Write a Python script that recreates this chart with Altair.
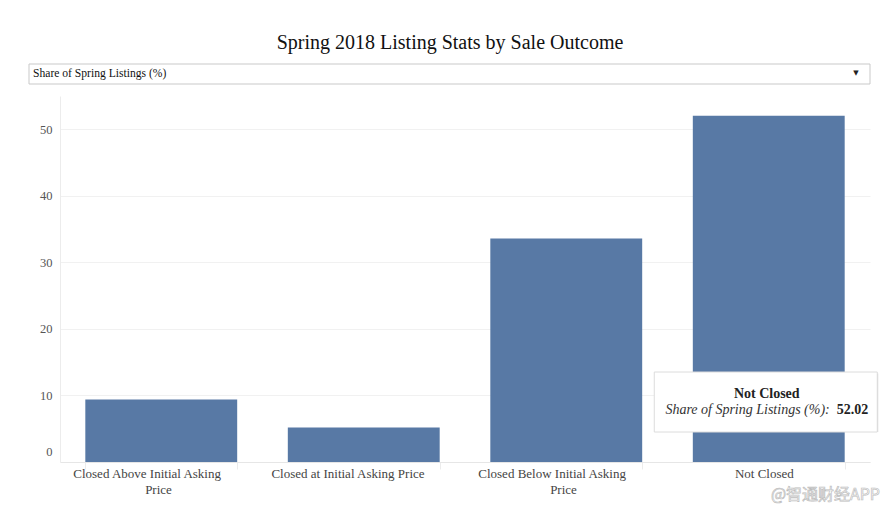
import altair as alt
import pandas as pd

outcomes = [
    "Closed Above Initial Asking Price",
    "Closed at Initial Asking Price",
    "Closed Below Initial Asking Price",
    "Not Closed",
]
share = [9.4, 5.2, 33.6, 52.02]
label_lines = [
    ["Closed Above Initial Asking", "Price"],
    ["Closed at Initial Asking Price"],
    ["Closed Below Initial Asking", "Price"],
    ["Not Closed"],
]
y_ticks = [0, 10, 20, 30, 40, 50]
measure_name = "Share of Spring Listings (%)"
title_text = "Spring 2018 Listing Stats by Sale Outcome"
tooltip_outcome = "Not Closed"
watermark = "@智通财经APP"

df = pd.DataFrame({"outcome": outcomes, "share": share})

# build the label-wrapping expression; the source header lays each line out a
# little left of the band centre, mimicked with trailing no-break spaces
# (closed by a zero-width space so that they are not trimmed away)
NBSP = "\u00a0"
ZWSP = "\u200b"


def pad(line):
    return line + NBSP * round(len(line) * 0.33) + ZWSP


expr = "datum.label"
for name, lines in zip(outcomes, label_lines):
    arr = "[" + ",".join("'" + pad(l) + "'" for l in lines) + "]"
    expr = f"datum.label == '{name}' ? {arr} : ({expr})"

SERIF = "Liberation Serif"
BLUE = "#5879a5"

x_enc = alt.X(
    "outcome:N",
    sort=outcomes,
    title=None,
    scale=alt.Scale(paddingInner=0.25, paddingOuter=0.125),
    axis=alt.Axis(
        labelAngle=0,
        labelExpr=expr,
        labelFont=SERIF,
        labelFontSize=13,
        labelColor="#444",
        labelLineHeight=16,
        labelPadding=-2,
        tickBand="extent",
        tickSize=7,
        tickColor="#ececec",
        domainColor="#e6e6e6",
        grid=False,
        labelLimit=300,
    ),
)
y_enc = alt.Y(
    "share:Q",
    title=None,
    scale=alt.Scale(domain=[0, 55], nice=False),
    axis=alt.Axis(
        values=y_ticks,
        labelFont=SERIF,
        labelFontSize=12.5,
        labelColor="#555",
        labelPadding=8,
        ticks=False,
        domainColor="#ececec",
        gridColor="#f1f1f1",
        labelFlush=True,
        labelFlushOffset=-4,
    ),
)

base = alt.Chart(df)
one = base.transform_filter(f"datum.outcome == '{tooltip_outcome}'")

bars = base.mark_bar(color=BLUE).encode(x=x_enc, y=y_enc)

# dropdown chrome above the plot
dropdown = one.mark_rect(
    fill="white", stroke="#c9c9c9", strokeWidth=1, clip=False
).encode(x=alt.value(-31), x2=alt.value(810), y=alt.value(-32), y2=alt.value(-12))
dropdown_text = one.mark_text(
    text=measure_name, font=SERIF, fontSize=11.6, align="left", baseline="middle", color="#111"
).encode(x=alt.value(-27), y=alt.value(-22))
dropdown_arrow = one.mark_text(
    text="▼", fontSize=7, align="center", baseline="middle", color="#222", font="DejaVu Sans"
).encode(x=alt.value(796), y=alt.value(-23))

# tooltip annotation
tip_shadow = one.mark_bar(size=223, color="#d9d9d9", xOffset=-2, yOffset=1.5, clip=False).encode(
    x=x_enc, y=alt.value(276), y2=alt.value(336)
)
tip_box = one.mark_bar(size=223, color="white", stroke="#dcdcdc", strokeWidth=1, xOffset=-3, clip=False).encode(
    x=x_enc, y=alt.value(276), y2=alt.value(336)
)
tip_title = one.mark_text(font=SERIF, fontSize=14, fontWeight="bold", color="#222", dx=-2, baseline="middle").encode(
    x=x_enc, y=alt.value(298), text="outcome:N"
)
tip_label = one.mark_text(
    text=measure_name + ":", font=SERIF, fontSize=14, fontStyle="italic", color="#333",
    align="right", dx=61, baseline="middle",
).encode(x=x_enc, y=alt.value(314))
tip_value = one.mark_text(
    font=SERIF, fontSize=14, fontWeight="bold", color="#222", align="left", dx=68, baseline="middle",
).encode(x=x_enc, y=alt.value(314), text=alt.Text("share:Q", format=".2f"))

wm = one.mark_text(
    text=watermark, font="Noto Sans CJK SC", fontSize=16, align="right", baseline="middle",
    fill="white", stroke="#bdbdbd", strokeWidth=0.7, clip=False,
).encode(x=alt.value(820), y=alt.value(399))

chart = (
    alt.layer(bars, dropdown, dropdown_text, dropdown_arrow, tip_shadow, tip_box,
              tip_title, tip_label, tip_value, wm)
    .properties(
        width=810,
        height=366,
        background="white",
        title=alt.Title(title_text, font=SERIF, fontSize=20, fontWeight="normal",
                        color="#111", anchor="middle", frame="group", dx=-15, dy=20,
                        baseline="alphabetic", offset=15),
        autosize=alt.AutoSizeParams(type="none"),
        padding={"left": 52, "top": 88, "right": 12, "bottom": 44},
    )
    .configure_view(stroke=None, strokeWidth=0)
)

chart.save("out.html", embed_options={"renderer": "svg", "actions": False})
